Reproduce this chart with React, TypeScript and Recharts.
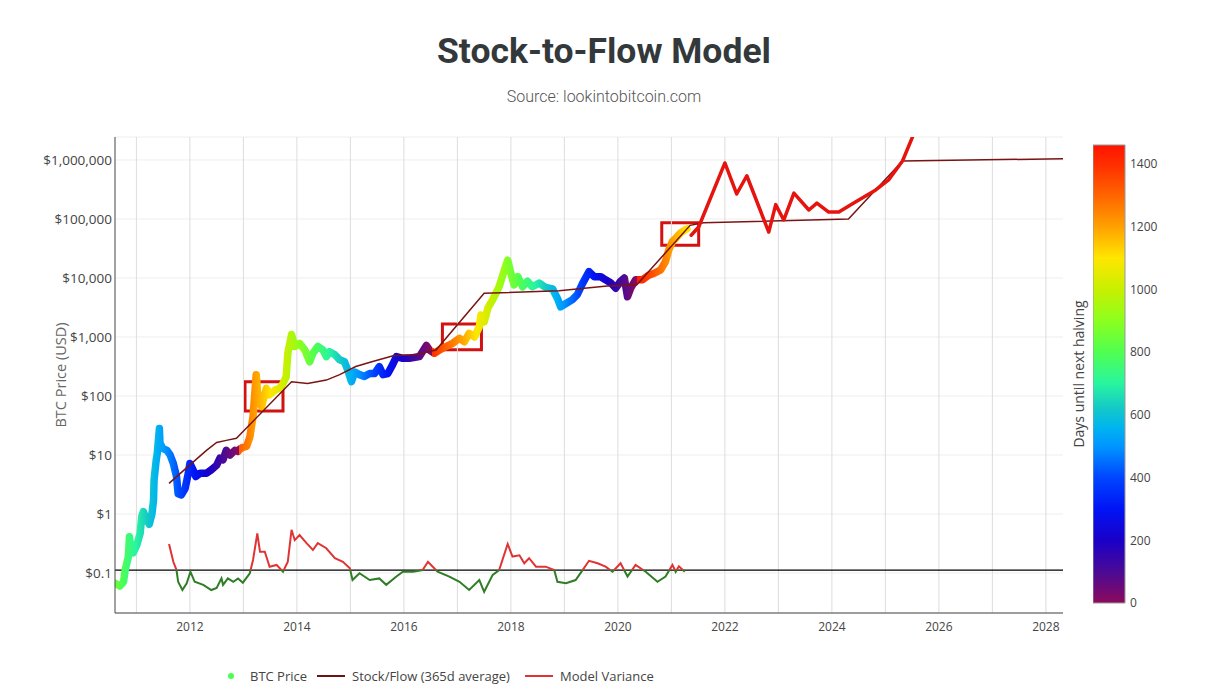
import React from 'react';
import {
  ComposedChart,
  BarChart,
  Bar,
  Line,
  XAxis,
  YAxis,
  CartesianGrid,
  ReferenceLine,
  ReferenceArea,
} from 'recharts';

// BTC price [year, usd]
const btcPrice: [number, number][] = [
  [2010.6, 0.067], [2010.69, 0.06], [2010.76, 0.071], [2010.79, 0.112], [2010.85, 0.19],
  [2010.87, 0.41], [2010.9, 0.25], [2010.94, 0.22], [2011.01, 0.3], [2011.07, 0.47],
  [2011.1, 0.9], [2011.13, 1.1], [2011.19, 0.8], [2011.24, 0.67], [2011.29, 1.0],
  [2011.32, 1.7], [2011.33, 3.8], [2011.37, 8.2], [2011.39, 10.7], [2011.43, 28],
  [2011.44, 16], [2011.49, 13], [2011.57, 12], [2011.63, 10], [2011.69, 7.2],
  [2011.75, 4.3], [2011.78, 2.2], [2011.84, 2.1], [2011.91, 2.7], [2011.97, 4.9],
  [2012.0, 7.2], [2012.06, 5.6], [2012.11, 4.3], [2012.19, 4.9], [2012.31, 4.9],
  [2012.4, 5.6], [2012.5, 6.7], [2012.56, 8.8], [2012.62, 8.3], [2012.68, 12],
  [2012.75, 10], [2012.84, 12], [2012.9, 11.5], [2012.93, 12.5], [2012.99, 13.5],
  [2013.06, 14], [2013.12, 20], [2013.18, 45], [2013.24, 230], [2013.27, 100],
  [2013.34, 66], [2013.43, 135], [2013.49, 105], [2013.59, 126], [2013.68, 135],
  [2013.74, 163], [2013.8, 213], [2013.83, 530], [2013.9, 1100], [2013.96, 690],
  [2014.05, 780], [2014.15, 600], [2014.24, 380], [2014.3, 530], [2014.39, 690],
  [2014.49, 600], [2014.55, 465], [2014.61, 565], [2014.71, 500], [2014.8, 410],
  [2014.89, 380], [2014.95, 275], [2015.02, 175], [2015.08, 255], [2015.17, 230],
  [2015.26, 215], [2015.36, 240], [2015.45, 240], [2015.54, 315], [2015.61, 230],
  [2015.7, 240], [2015.79, 340], [2015.86, 465], [2015.98, 435], [2016.1, 435],
  [2016.29, 465], [2016.42, 720], [2016.48, 600], [2016.57, 530], [2016.66, 600],
  [2016.79, 690], [2016.91, 780], [2017.04, 950], [2017.13, 830], [2017.22, 1150],
  [2017.32, 1000], [2017.41, 1500], [2017.44, 2350], [2017.5, 1800], [2017.57, 3100],
  [2017.66, 4300], [2017.72, 5500], [2017.78, 7100], [2017.88, 13700], [2017.94, 20000],
  [2018.0, 12000], [2018.06, 7600], [2018.13, 10500], [2018.22, 7100], [2018.31, 8800],
  [2018.4, 7100], [2018.53, 8200], [2018.65, 6900], [2018.78, 6500], [2018.87, 4500],
  [2018.93, 3250], [2019.03, 3700], [2019.15, 4300], [2019.24, 5200], [2019.34, 8100],
  [2019.46, 12800], [2019.56, 10500], [2019.68, 10500], [2019.77, 9300], [2019.87, 8200],
  [2019.96, 6700], [2020.05, 8800], [2020.12, 10000], [2020.18, 4800], [2020.24, 6700],
  [2020.33, 9300], [2020.46, 9300], [2020.58, 11200], [2020.68, 12000], [2020.8, 13700],
  [2020.89, 19000], [2020.95, 29500], [2021.02, 41500], [2021.08, 47000], [2021.17, 58000],
  [2021.29, 68000],
];

// Stock/Flow (365d average) [year, usd]
const stockFlow: [number, number][] = [
  [2011.61, 3.3], [2012.0, 6.8], [2012.31, 12], [2012.5, 16.3], [2012.68, 17.7],
  [2012.87, 19.2], [2013.9, 174], [2014.2, 163], [2014.55, 186], [2014.8, 230],
  [2015.1, 316], [2015.4, 380], [2015.8, 480], [2016.2, 500], [2016.6, 600],
  [2017.5, 5500], [2018.9, 6100], [2019.8, 7300], [2020.35, 7600], [2021.35, 78000],
  [2021.6, 86000], [2024.31, 100000], [2025.32, 960000], [2028.32, 1050000],
];

// Model variance [year, ratio]
const modelVariance: [number, number][] = [
  [2011.61, 0.31], [2011.69, 0.155], [2011.75, 0.112], [2011.78, 0.071], [2011.86, 0.0515],
  [2011.94, 0.067], [2012.01, 0.105], [2012.09, 0.071], [2012.25, 0.063], [2012.4, 0.0515],
  [2012.5, 0.056], [2012.59, 0.081], [2012.62, 0.063], [2012.71, 0.081], [2012.81, 0.071],
  [2012.9, 0.081], [2012.99, 0.0686], [2013.12, 0.099], [2013.18, 0.166], [2013.26, 0.47],
  [2013.31, 0.23], [2013.4, 0.23], [2013.49, 0.128], [2013.62, 0.137], [2013.74, 0.105],
  [2013.83, 0.155], [2013.9, 0.54], [2013.96, 0.36], [2014.05, 0.44], [2014.18, 0.32],
  [2014.3, 0.245], [2014.39, 0.32], [2014.55, 0.263], [2014.71, 0.178], [2014.86, 0.155],
  [2014.99, 0.12], [2015.04, 0.076], [2015.17, 0.099], [2015.36, 0.076], [2015.54, 0.081],
  [2015.67, 0.063], [2015.86, 0.087], [2015.98, 0.105], [2016.17, 0.105], [2016.35, 0.112],
  [2016.45, 0.155], [2016.54, 0.128], [2016.63, 0.105], [2016.85, 0.087], [2017.04, 0.071],
  [2017.22, 0.0515], [2017.41, 0.076], [2017.5, 0.048], [2017.66, 0.093], [2017.78, 0.112],
  [2017.94, 0.31], [2018.03, 0.19], [2018.16, 0.2], [2018.25, 0.146], [2018.34, 0.178],
  [2018.47, 0.128], [2018.65, 0.128], [2018.81, 0.112], [2018.87, 0.071], [2019.03, 0.067],
  [2019.21, 0.076], [2019.34, 0.112], [2019.46, 0.161], [2019.62, 0.146], [2019.77, 0.128],
  [2019.9, 0.105], [2020.05, 0.146], [2020.18, 0.087], [2020.33, 0.137], [2020.52, 0.105],
  [2020.74, 0.071], [2020.89, 0.087], [2021.02, 0.137], [2021.08, 0.105], [2021.14, 0.13],
  [2021.25, 0.105],
];

// hand-drawn projection [year, usd]
const drawnPath: [number, number][] = [
  [2021.37, 53000], [2021.51, 73000], [2022.0, 890000], [2022.22, 265000], [2022.41, 540000],
  [2022.82, 60000], [2022.95, 175000], [2023.1, 96000], [2023.29, 275000], [2023.57, 142000],
  [2023.72, 186000], [2023.94, 131000], [2024.13, 131000], [2024.44, 194000], [2024.82, 310000],
  [2025.06, 460000], [2025.32, 960000], [2025.56, 3200000],
];

// highlight boxes [x1, x2, y1, y2]
const boxes: [number, number, number, number][] = [
  [2013.03, 2013.74, 55.7, 174],
  [2016.72, 2017.45, 605, 1660],
  [2020.82, 2021.51, 36000, 86000],
];

const halvings = [2012.91, 2016.52, 2020.36, 2024.3];
const varianceThreshold = 0.112;

const xTicks = [2012, 2014, 2016, 2018, 2020, 2022, 2024, 2026, 2028];
const gridYears = [2011, 2012, 2013, 2014, 2015, 2016, 2017, 2018, 2019, 2020, 2021, 2022, 2023, 2024, 2025, 2026, 2027, 2028];
const yTicks = [0.1, 1, 10, 100, 1000, 10000, 100000, 1000000];
const colorbarTicks = [0, 200, 400, 600, 800, 1000, 1200, 1400];
const colorbarMax = 1460;

const colorStops: [number, string][] = [
  [0, '#8c0a5c'], [100, '#4b0a96'], [200, '#1a00c8'], [300, '#0014f5'], [400, '#0046ff'],
  [500, '#0096ff'], [560, '#00b4f0'], [620, '#14c8c8'], [700, '#28f5a0'], [800, '#50ff50'],
  [900, '#8cff1e'], [1000, '#c8f000'], [1100, '#ffe600'], [1200, '#ffa000'], [1300, '#ff6400'],
  [1400, '#ff2d00'], [1460, '#ff1400'],
];

const FONT = '"Open Sans", sans-serif';

function hexToRgb(h: string) {
  return [1, 3, 5].map((i) => parseInt(h.slice(i, i + 2), 16));
}

function colorAt(days: number) {
  const d = Math.max(0, Math.min(colorbarMax, days));
  for (let i = 1; i < colorStops.length; i++) {
    const [d1, c1] = colorStops[i];
    const [d0, c0] = colorStops[i - 1];
    if (d <= d1) {
      const f = (d - d0) / (d1 - d0);
      const a = hexToRgb(c0);
      const b = hexToRgb(c1);
      const rgb = a.map((v, k) => Math.round(v + (b[k] - v) * f));
      return `rgb(${rgb.join(',')})`;
    }
  }
  return colorStops[colorStops.length - 1][1];
}

function daysUntilHalving(t: number) {
  const next = halvings.find((h) => h > t) ?? halvings[halvings.length - 1];
  return (next - t) * 365.25;
}

const toRows = (arr: [number, number][]) => arr.map(([t, v]) => ({ t, v }));
const priceRows = toRows(btcPrice);
const s2fRows = toRows(stockFlow);
const varianceRows = toRows(modelVariance);
const drawnRows = toRows(drawnPath);

// horizontal gradient along price line, colored by days until next halving
function priceStops() {
  const t0 = btcPrice[0][0];
  const t1 = btcPrice[btcPrice.length - 1][0];
  const stops: { o: number; c: string }[] = [];
  const n = 300;
  for (let i = 0; i <= n; i++) {
    const t = t0 + ((t1 - t0) * i) / n;
    stops.push({ o: i / n, c: colorAt(daysUntilHalving(t)) });
  }
  halvings.forEach((h, i) => {
    if (h > t0 && h < t1) {
      const o = (h - t0) / (t1 - t0);
      stops.push({ o: o - 0.0001, c: colorAt(0) });
      stops.push({ o, c: colorAt((halvings[i + 1] - h) * 365.25) });
    }
  });
  return stops.sort((a, b) => a.o - b.o);
}

const vVals = modelVariance.map((d) => d[1]);
const vMax = Math.max(...vVals);
const vMin = Math.min(...vVals);
const varianceSplit =
  (Math.log10(vMax) - Math.log10(varianceThreshold)) / (Math.log10(vMax) - Math.log10(vMin));

function fmtUsd(v: number) {
  if (v < 1) return `$${v}`;
  return `$${v.toLocaleString('en-US')}`;
}

function Colorbar() {
  return (
    <BarChart
      width={131}
      height={694}
      data={[{ k: 'days', v: colorbarMax }]}
      margin={{ top: 145, right: 0, bottom: 91, left: 0 }}
      barCategoryGap={0}
    >
      <defs>
        <linearGradient id="cbGrad" x1="0" y1="1" x2="0" y2="0">
          {colorStops.map(([d, c]) => (
            <stop key={d} offset={d / colorbarMax} stopColor={c} />
          ))}
        </linearGradient>
      </defs>
      <XAxis dataKey="k" hide />
      <YAxis
        orientation="right"
        width={99}
        type="number"
        domain={[0, colorbarMax]}
        ticks={colorbarTicks}
        axisLine={false}
        tickLine={false}
        tickSize={0}
        tickMargin={5}
        tick={{ fill: '#444', fontSize: 12, fontFamily: FONT }}
      />
      <Bar dataKey="v" fill="url(#cbGrad)" stroke="#999" strokeWidth={1} isAnimationActive={false} />
    </BarChart>
  );
}

function LegendItem({ left, kind, color, label }: { left: number; kind: 'dot' | 'line'; color: string; label: string }) {
  return (
    <div style={{ position: 'absolute', left, top: 668, display: 'flex', alignItems: 'center', height: 16 }}>
      {kind === 'dot' ? (
        <div style={{ width: 6, height: 6, borderRadius: 3, background: color, marginLeft: 2, marginRight: 16 }} />
      ) : (
        <div style={{ width: 28, height: 2, background: color, marginRight: 7 }} />
      )}
      <span style={{ fontFamily: FONT, fontSize: 13, color: '#444', whiteSpace: 'nowrap' }}>{label}</span>
    </div>
  );
}

export default function App() {
  const pStops = priceStops();
  return (
    <div style={{ position: 'absolute', left: 0, top: 0, width: 1224, height: 694, background: '#fff', overflow: 'hidden' }}>
      <div
        style={{
          position: 'absolute', left: 0, top: 30, width: 1208, textAlign: 'center',
          fontFamily: 'Roboto, sans-serif', fontWeight: 700, fontSize: 35.5, color: '#33393b',
        }}
      >
        Stock-to-Flow Model
      </div>
      <div
        style={{
          position: 'absolute', left: 0, top: 87, width: 1208, textAlign: 'center',
          fontFamily: 'Roboto, sans-serif', fontWeight: 300, fontSize: 16, color: '#555',
        }}
      >
        Source: lookintobitcoin.com
      </div>

      <div style={{ position: 'absolute', left: 0, top: 0 }}>
        <ComposedChart width={1224} height={694} margin={{ top: 137, right: 161, bottom: 51, left: 0 }}>
          <defs>
            <linearGradient id="priceGrad" x1="0" y1="0" x2="1" y2="0">
              {pStops.map((s, i) => (
                <stop key={i} offset={s.o} stopColor={s.c} />
              ))}
            </linearGradient>
            <linearGradient id="varGrad" x1="0" y1="0" x2="0" y2="1">
              <stop offset={0} stopColor="#e03434" />
              <stop offset={varianceSplit} stopColor="#e03434" />
              <stop offset={varianceSplit} stopColor="#2f7d25" />
              <stop offset={1} stopColor="#2f7d25" />
            </linearGradient>
          </defs>
          <CartesianGrid vertical={false} stroke="#eee" />
          {gridYears.map((y) => (
            <ReferenceLine key={y} x={y} stroke="#ddd" strokeWidth={1} />
          ))}
          <XAxis
            dataKey="t"
            type="number"
            domain={[2010.6, 2028.32]}
            allowDataOverflow
            ticks={xTicks}
            height={30}
            tickLine={false}
            tickSize={5}
            tickMargin={4}
            axisLine={{ stroke: '#444' }}
            tick={{ fill: '#444', fontSize: 12, fontFamily: FONT }}
          />
          <YAxis
            scale="log"
            type="number"
            domain={[0.021, 2450000]}
            allowDataOverflow
            ticks={yTicks}
            tickFormatter={fmtUsd}
            width={115}
            tickLine={false}
            tickSize={0}
            tickMargin={3}
            axisLine={{ stroke: '#444' }}
            tick={{ fill: '#444', fontSize: 13.5, fontFamily: FONT }}
          />
          <ReferenceLine y={varianceThreshold} stroke="#000" strokeWidth={1.2} />
          <Line
            data={varianceRows}
            dataKey="v"
            type="linear"
            stroke="url(#varGrad)"
            strokeWidth={2}
            dot={false}
            isAnimationActive={false}
          />
          <Line
            data={priceRows}
            dataKey="v"
            type="linear"
            stroke="url(#priceGrad)"
            strokeWidth={7.5}
            strokeLinejoin="round"
            strokeLinecap="round"
            dot={false}
            isAnimationActive={false}
          />
          <Line
            data={s2fRows}
            dataKey="v"
            type="linear"
            stroke="#7a1414"
            strokeWidth={1.5}
            dot={false}
            isAnimationActive={false}
          />
          <Line
            data={drawnRows}
            dataKey="v"
            type="linear"
            stroke="#e5140e"
            strokeWidth={3.5}
            strokeLinejoin="round"
            strokeLinecap="round"
            dot={false}
            isAnimationActive={false}
          />
          {boxes.map(([x1, x2, y1, y2], i) => (
            <ReferenceArea
              key={i}
              x1={x1}
              x2={x2}
              y1={y1}
              y2={y2}
              fill="none"
              fillOpacity={0}
              stroke="#d41111"
              strokeWidth={3}
            />
          ))}
        </ComposedChart>
      </div>

      <div
        style={{
          position: 'absolute', left: 60, top: 375, transform: 'translate(-50%, -50%) rotate(-90deg)',
          fontFamily: FONT, fontSize: 14.5, color: '#666', whiteSpace: 'nowrap',
        }}
      >
        BTC Price (USD)
      </div>

      <div style={{ position: 'absolute', left: 1093, top: 0 }}>
        <Colorbar />
      </div>
      <div
        style={{
          position: 'absolute', left: 1078, top: 374, transform: 'translate(-50%, -50%) rotate(-90deg)',
          fontFamily: FONT, fontSize: 14, color: '#444', whiteSpace: 'nowrap',
        }}
      >
        Days until next halving
      </div>

      <LegendItem left={226} kind="dot" color="#4cff4c" label="BTC Price" />
      <LegendItem left={317} kind="line" color="#6b1414" label="Stock/Flow (365d average)" />
      <LegendItem left={525} kind="line" color="#e03434" label="Model Variance" />
    </div>
  );
}
